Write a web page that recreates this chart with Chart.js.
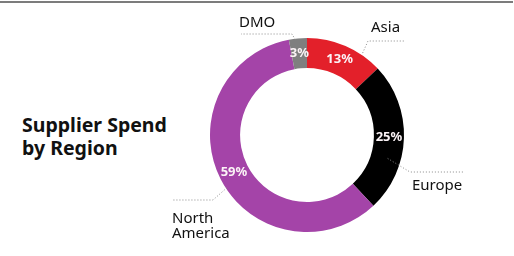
<!DOCTYPE html>
<html lang="en">
<head>
    <meta charset="UTF-8">
    <title>Supplier Spend by Region</title>
    <script src="https://cdn.jsdelivr.net/npm/chart.js"></script>
    <style>
        body { margin: 0; background: #fff; }
        .wrap { position: relative; width: 514px; height: 256px; overflow: hidden; }
        .topline { position: absolute; left: 0; top: 1px; width: 513px; height: 2px; background: #7c7c7c; }
        .title {
            position: absolute; left: 22px; top: 113px;
            font-family: "Noto Sans", sans-serif; font-weight: bold;
            font-size: 19.5px; line-height: 23px; color: #111;
        }
        canvas { position: absolute; left: 0; top: 0; }
    </style>
</head>
<body>
    <div class="wrap">
        <div class="topline"></div>
        <div class="title">Supplier Spend<br>by Region</div>
        <canvas id="spendChart" width="514" height="256"></canvas>
    </div>

    <script>
    // Supplier spend share by region (%), clockwise from 12 o'clock
    const regions = ['Asia', 'Europe', 'North America', 'DMO'];
    const spend = [13, 25, 59, 3];
    const colors = ['#e3202a', '#000000', '#a444a8', '#7f7f7f'];

    // callout placement: where the leader touches the ring, elbow, label anchor
    const callouts = [
        { frac: 0.73, r: 99, elbow: [368, 41], end: [405, 41], text: [371, 32], lines: ['Asia'] },
        { frac: 0.66, r: 84, elbow: [410, 172], end: [463, 172], text: [412, 190], lines: ['Europe'] },
        { frac: 0.47, r: 96, elbow: [213, 200], end: [173, 200], text: [172, 223], lines: ['North', 'America'] },
        { frac: 0.35, r: 96, elbow: [292, 34], end: [241, 34], text: [239, 27], lines: ['DMO'] }
    ];

    const calloutPlugin = {
        id: 'callouts',
        afterDatasetsDraw(chart) {
            const ctx = chart.ctx;
            const arcs = chart.getDatasetMeta(0).data;
            arcs.forEach(function (arc, i) {
                const p = arc.getProps(['x', 'y', 'startAngle', 'endAngle', 'innerRadius', 'outerRadius'], true);
                // value label in the middle of the ring
                const mid = (p.startAngle + p.endAngle) / 2;
                const rm = (p.innerRadius + p.outerRadius) / 2;
                ctx.save();
                ctx.fillStyle = '#fbf3f6';
                ctx.font = 'bold 13px "Noto Sans", sans-serif';
                ctx.textAlign = 'center';
                ctx.textBaseline = 'middle';
                ctx.fillText(spend[i] + '%', p.x + Math.cos(mid) * rm, p.y + Math.sin(mid) * rm);

                // dotted leader line
                const c = callouts[i];
                const a = p.startAngle + c.frac * (p.endAngle - p.startAngle);
                ctx.strokeStyle = '#8a8a8a';
                ctx.lineWidth = 1;
                ctx.setLineDash([1, 2]);
                ctx.beginPath();
                ctx.moveTo(p.x + Math.cos(a) * c.r, p.y + Math.sin(a) * c.r);
                ctx.lineTo(c.elbow[0], c.elbow[1]);
                ctx.lineTo(c.end[0], c.end[1]);
                ctx.stroke();
                ctx.setLineDash([]);

                // region name
                ctx.fillStyle = '#111';
                ctx.font = '15px "Noto Sans", sans-serif';
                ctx.textAlign = 'left';
                ctx.textBaseline = 'alphabetic';
                c.lines.forEach(function (t, k) {
                    ctx.fillText(t, c.text[0], c.text[1] + k * 15);
                });
                ctx.restore();
            });
        }
    };

    new Chart(document.getElementById('spendChart'), {
        type: 'doughnut',
        data: {
            labels: regions,
            datasets: [{
                data: spend,
                backgroundColor: colors,
                borderWidth: 0
            }]
        },
        options: {
            responsive: false,
            animation: false,
            cutout: '69%',
            layout: { padding: { left: 210, right: 110, top: 38, bottom: 24 } },
            plugins: {
                legend: { display: false },
                tooltip: { enabled: false }
            }
        },
        plugins: [calloutPlugin]
    });
    </script>
</body>
</html>
